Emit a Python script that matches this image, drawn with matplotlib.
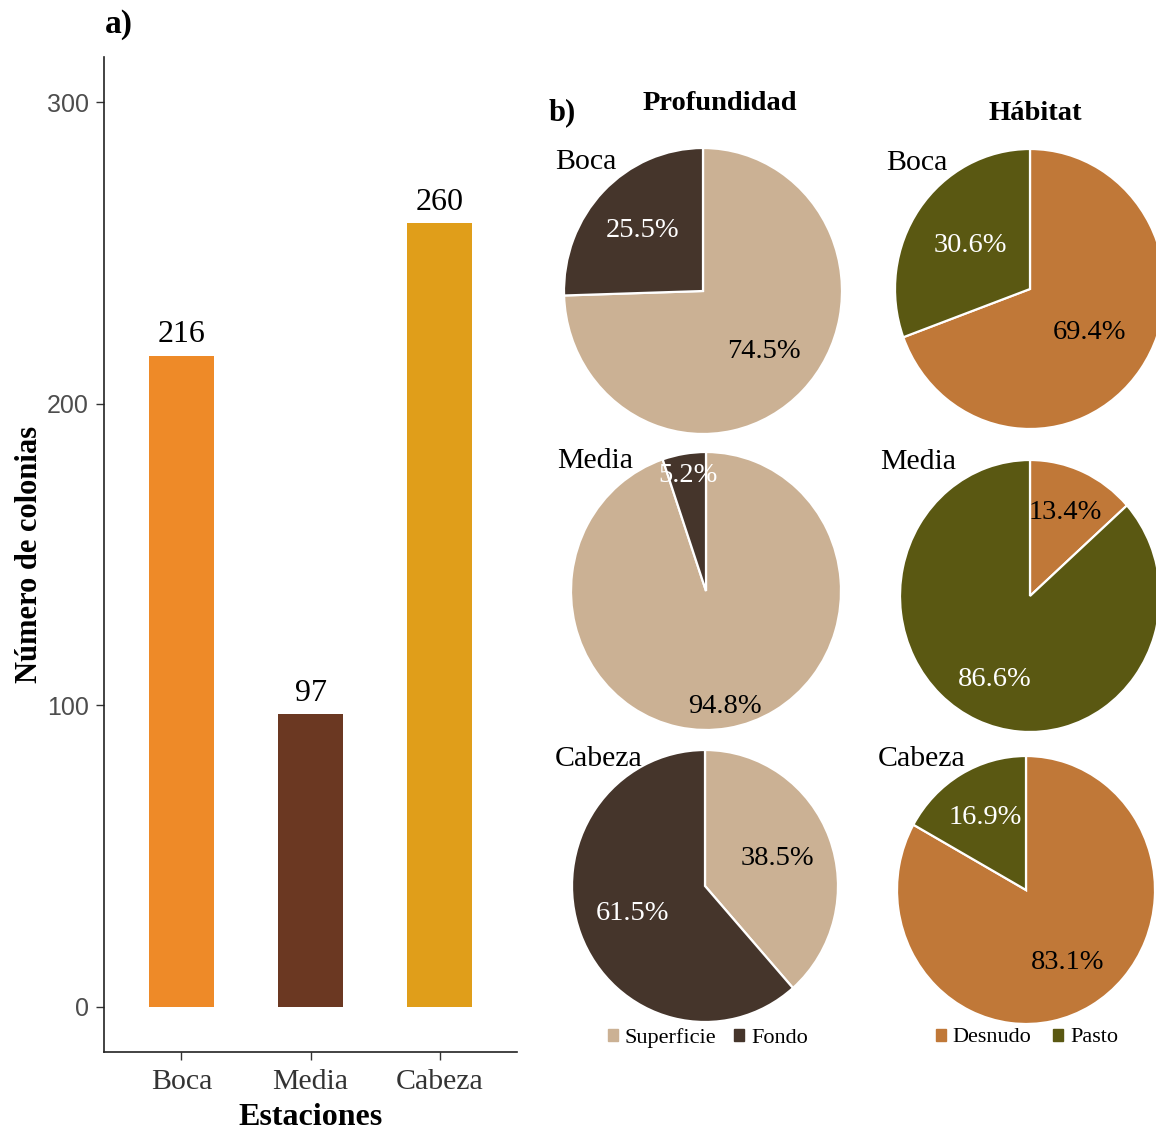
import matplotlib
matplotlib.use("Agg")
import matplotlib.pyplot as plt
from matplotlib.patches import Patch
import numpy as np

plt.rcParams['font.family'] = ['Liberation Serif', 'DejaVu Serif']

# a) colonias por estación
estaciones = ["Boca", "Media", "Cabeza"]
colonias = [216, 97, 260]
bar_colors = ["#EE8A28", "#6B3822", "#E09E1A"]

# b) porcentajes por estación
prof_labels = ["Superficie", "Fondo"]
prof_pct = [[74.5, 25.5], [94.8, 5.2], [38.5, 61.5]]
prof_colors = ["#CBB194", "#45352B"]

hab_labels = ["Desnudo", "Pasto"]
hab_pct = [[69.4, 30.6], [13.4, 86.6], [83.1, 16.9]]
hab_colors = ["#C07838", "#5A5812"]

W, H = 1156, 1130
fig = plt.figure(figsize=(W / 100, H / 100), dpi=100)


def px_axes(left, top, right, bottom):
    return fig.add_axes([left / W, 1 - bottom / H, (right - left) / W, (bottom - top) / H])


# ---- bar chart ----
ax = px_axes(104, 57, 517, 1052)
x = np.arange(1, len(estaciones) + 1)
ax.bar(x, colonias, width=0.5, color=bar_colors)
for xi, v in zip(x, colonias):
    ax.text(xi, v + 2, str(v), ha="center", va="bottom", fontsize=23)
ax.set_xlim(0.4, 3.6)
ax.set_ylim(-15, 315)
ax.set_yticks([0, 100, 200, 300])
ax.set_xticks(x)
ax.set_xticklabels(estaciones, fontsize=21.5, color="#333333")
for lab in ax.get_yticklabels():
    lab.set_family(["Liberation Sans", "DejaVu Sans"])
    lab.set_fontsize(18)
    lab.set_color("#4d4d4d")
ax.tick_params(axis="y", length=6, width=1, color="#333333", pad=5)
ax.tick_params(axis="x", length=6, width=1, color="#333333", pad=6)
for s in ["top", "right"]:
    ax.spines[s].set_visible(False)
for s in ["left", "bottom"]:
    ax.spines[s].set_color("#222222")
    ax.spines[s].set_linewidth(1.2)
ax.set_xlabel("Estaciones", fontsize=23, fontweight="bold", labelpad=6)
ax.set_ylabel("Número de colonias", fontsize=22, fontweight="bold")
ax.yaxis.set_label_coords(-0.145, 0.5)
fig.text(105 / W, 1 - 25 / H, "a)", fontsize=24, fontweight="bold", va="center")

# ---- pies: centre x, centre y, radius x, radius y, label distance ----
prof_geom = [(703, 291, 139, 143, 0.61), (706, 591, 135, 139, 0.84), (705, 886, 133, 136, 0.58)]
hab_geom = [(1030, 289, 135, 140, 0.54), (1030, 596, 130, 136, 0.67), (1026, 890, 129, 134, 0.63)]
text_colors = ["black", "white"]


def draw_pie(cx, cy, rx, ry, dist, vals, colors):
    pa = px_axes(cx - rx, cy - ry, cx + rx, cy + ry)
    pa.pie(vals, colors=colors, startangle=90, counterclock=False, radius=1,
           wedgeprops=dict(edgecolor="white", linewidth=1.6))
    start = 0.0
    for v, tc in zip(vals, text_colors):
        mid = np.deg2rad((start + v / 2) / 100 * 360)
        pa.text(dist * np.sin(mid), dist * np.cos(mid), f"{v:.1f}%",
                ha="center", va="center", fontsize=20.5, color=tc)
        start += v
    pa.set_aspect("auto")
    pa.set_xlim(-1, 1)
    pa.set_ylim(-1, 1)
    pa.axis("off")


for (cx, cy, rx, ry, d), vals in zip(prof_geom, prof_pct):
    draw_pie(cx, cy, rx, ry, d, vals, prof_colors)
for (cx, cy, rx, ry, d), vals in zip(hab_geom, hab_pct):
    draw_pie(cx, cy, rx, ry, d, vals, hab_colors)

# row names
for (tx, ty), name in zip([(555, 162), (557, 461), (555, 759)], estaciones):
    fig.text(tx / W, 1 - ty / H, name, fontsize=21.5, ha="left", va="center")
for (tx, ty), name in zip([(886, 163), (880, 462), (878, 759)], estaciones):
    fig.text(tx / W, 1 - ty / H, name, fontsize=21.5, ha="left", va="center")

fig.text(562 / W, 1 - 113 / H, "b)", fontsize=22, fontweight="bold", ha="center", va="center")
fig.text(720 / W, 1 - 104 / H, "Profundidad", fontsize=20.5, fontweight="bold", ha="center", va="center")
fig.text(1035 / W, 1 - 113 / H, "Hábitat", fontsize=20.5, fontweight="bold", ha="center", va="center")

# legends
legend_kw = dict(loc="center", ncol=2, frameon=False, fontsize=16, handlelength=0.45,
                 handleheight=0.45, handletextpad=0.3)
fig.legend(handles=[Patch(color=c, label=l) for c, l in zip(prof_colors, prof_labels)],
           bbox_to_anchor=(708 / W, 1 - 1038 / H), columnspacing=0.8, **legend_kw)
fig.legend(handles=[Patch(color=c, label=l) for c, l in zip(hab_colors, hab_labels)],
           bbox_to_anchor=(1027 / W, 1 - 1038 / H), columnspacing=1.0, **legend_kw)

fig.savefig("out.png", dpi=100)
